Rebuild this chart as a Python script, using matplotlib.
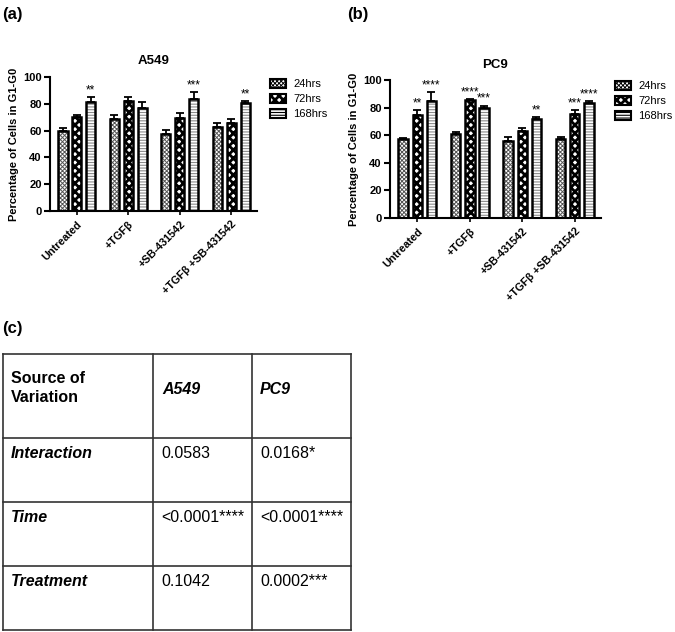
import matplotlib
matplotlib.use("Agg")
import matplotlib.pyplot as plt
from matplotlib.patches import Patch, Rectangle
from matplotlib.legend_handler import HandlerPatch
import numpy as np

plt.rcParams['font.family'] = ['Liberation Sans', 'DejaVu Sans']
plt.rcParams['hatch.linewidth'] = 0.8

# ---------------- data ----------------
categories = ["Untreated", "+TGF\u03b2", "+SB-431542", "+TGF\u03b2 +SB-431542"]
series = ["24hrs", "72hrs", "168hrs"]

a549_24 = [59.5, 69.0, 57.5, 62.5]
a549_72 = [70.0, 82.0, 69.5, 66.0]
a549_168 = [81.0, 77.0, 83.5, 80.5]
a549_err_24 = [2.5, 2.8, 3.0, 3.5]
a549_err_72 = [2.0, 3.0, 3.5, 3.0]
a549_err_168 = [4.0, 4.5, 5.0, 1.5]
a549_stars_24 = ["", "", "", ""]
a549_stars_72 = ["", "", "", ""]
a549_stars_168 = ["**", "", "***", "**"]

pc9_24 = [57.0, 61.0, 56.0, 57.0]
pc9_72 = [74.5, 85.5, 63.0, 75.5]
pc9_168 = [85.0, 79.5, 72.0, 83.5]
pc9_err_24 = [1.0, 1.0, 3.0, 2.0]
pc9_err_72 = [4.0, 0.5, 2.5, 2.5]
pc9_err_168 = [6.0, 2.0, 1.0, 1.5]
pc9_stars_24 = ["", "", "", ""]
pc9_stars_72 = ["**", "****", "", "***"]
pc9_stars_168 = ["****", "***", "**", "****"]

yticks = [0, 20, 40, 60, 80, 100]
ylabel = "Percentage of Cells in G1-G0"

table_header = ["Source of\nVariation", "A549", "PC9"]
table_rows = ["Interaction", "Time", "Treatment"]
table_a549 = ["0.0583", "<0.0001****", "0.1042"]
table_pc9 = ["0.0168*", "<0.0001****", "0.0002***"]

# ---------------- styles ----------------
hatches = ["xxxxxxxx", "xxxx", "------"]
hatch_cols = ["#555555", "#000000", "#8a8a8a"]
hatch_lw = [0.7, 2.0, 0.8]

W, H = 675, 632
fig = plt.figure(figsize=(W / 100, H / 100), dpi=100)


def px_axes(l, t, r, b):
    return fig.add_axes([l / W, 1 - b / H, (r - l) / W, (b - t) / H])


def set_hlw(patch, lw):
    if hasattr(patch, "set_hatch_linewidth"):
        patch.set_hatch_linewidth(lw)
    else:
        patch._hatch_linewidth = lw


def draw_panel(ax, title, vals, errs, stars):
    x = np.arange(len(categories))
    offs = [-0.27, 0.0, 0.27]
    width = 0.18
    for i in range(3):
        plt.rcParams['hatch.linewidth'] = hatch_lw[i]
        bars = ax.bar(x + offs[i], vals[i], width, color="white", edgecolor=hatch_cols[i],
                      hatch=hatches[i], linewidth=0, zorder=2)
        for b in bars:
            set_hlw(b, hatch_lw[i])
        ax.bar(x + offs[i], vals[i], width, fill=False, edgecolor="black",
               linewidth=1.8, zorder=3)
        ax.errorbar(x + offs[i], vals[i], yerr=[np.zeros(len(x)), errs[i]], fmt="none",
                    ecolor="black", elinewidth=1.3, capsize=2.6, capthick=1.3, zorder=4)
        for j in range(len(x)):
            if stars[i][j]:
                ax.text(x[j] + offs[i], vals[i][j] + errs[i][j] + 0.5, stars[i][j],
                        ha="center", va="bottom", fontsize=8.5, zorder=5)
    ax.set_ylim(0, 100)
    ax.set_xlim(-0.52, 3.5)
    ax.set_yticks(yticks)
    ax.set_yticklabels([str(t) for t in yticks], fontsize=8, fontweight="bold")
    ax.set_xticks(x)
    ax.set_xticklabels(categories, rotation=45, ha="right", rotation_mode="anchor",
                       fontsize=7.8, fontweight="bold")
    for s in ["top", "right"]:
        ax.spines[s].set_visible(False)
    for s in ["left", "bottom"]:
        ax.spines[s].set_linewidth(1.5)
    ax.tick_params(axis="y", length=4, width=1.5, pad=2)
    ax.tick_params(axis="x", length=3, width=1.2, pad=3)
    ax.set_ylabel(ylabel, fontsize=8, fontweight="bold", labelpad=3)
    ax.set_title(title, fontsize=9.5, fontweight="bold", pad=9)


ax_a = px_axes(50, 77, 257, 211)
draw_panel(ax_a, "A549", [a549_24, a549_72, a549_168],
           [a549_err_24, a549_err_72, a549_err_168],
           [a549_stars_24, a549_stars_72, a549_stars_168])
ax_b = px_axes(390, 80, 601, 218)
draw_panel(ax_b, "PC9", [pc9_24, pc9_72, pc9_168],
           [pc9_err_24, pc9_err_72, pc9_err_168],
           [pc9_stars_24, pc9_stars_72, pc9_stars_168])


class HatchHandler(HandlerPatch):
    def __init__(self, lw):
        super().__init__()
        self.hlw = lw

    def create_artists(self, legend, orig_handle, xdescent, ydescent, width, height,
                       fontsize, trans):
        arts = super().create_artists(legend, orig_handle, xdescent, ydescent, width,
                                      height, fontsize, trans)
        for a in arts:
            set_hlw(a, self.hlw)
        return arts


# legends
def legend_for(x0, y0):
    handles = []
    hmap = {}
    for i in range(3):
        p = Patch(facecolor="white", edgecolor="black", hatch=hatches[i],
                  linewidth=1.5, label=series[i])
        handles.append(p)
        hmap[p] = HatchHandler(hatch_lw[i])
    fig.legend(handles=handles, handler_map=hmap, loc="upper left",
               bbox_to_anchor=(x0 / W, 1 - y0 / H),
               frameon=False, fontsize=8, handlelength=1.4, handleheight=0.8,
               labelspacing=0.45, handletextpad=0.7, borderaxespad=0, borderpad=0)

legend_for(270, 79)
legend_for(615, 81)

# overlay axes in pixel coordinates for panel labels and table
ov = fig.add_axes([0, 0, 1, 1])
ov.set_xlim(0, W)
ov.set_ylim(H, 0)
ov.axis("off")
ov.text(2, 15, "(a)", fontsize=12, fontweight="bold", va="center", ha="left")
ov.text(347, 15, "(b)", fontsize=12, fontweight="bold", va="center", ha="left")
ov.text(2, 328, "(c)", fontsize=12, fontweight="bold", va="center", ha="left")

xs = [3, 152.7, 251.7, 351]
ys = [354, 438, 502, 566, 629.5]
for xv in xs:
    ov.plot([xv, xv], [ys[0], ys[-1]], color="#333333", lw=1.2)
for yv in ys:
    ov.plot([xs[0], xs[-1]], [yv, yv], color="#333333", lw=1.2)

fs = 11.5
ov.text(11, 388, table_header[0], fontsize=fs, fontweight="bold", va="center",
        ha="left", linespacing=1.3)
ov.text(162, 389, table_header[1], fontsize=fs, fontweight="bold", style="italic",
        va="center", ha="left")
ov.text(260, 389, table_header[2], fontsize=fs, fontweight="bold", style="italic",
        va="center", ha="left")
row_y = [454, 518, 581]
for k in range(3):
    ov.text(11, row_y[k], table_rows[k], fontsize=fs, fontweight="bold", style="italic",
            va="center", ha="left")
    ov.text(161, row_y[k], table_a549[k], fontsize=fs, va="center", ha="left")
    ov.text(260, row_y[k], table_pc9[k], fontsize=fs, va="center", ha="left")

fig.savefig("out.png", dpi=100)
